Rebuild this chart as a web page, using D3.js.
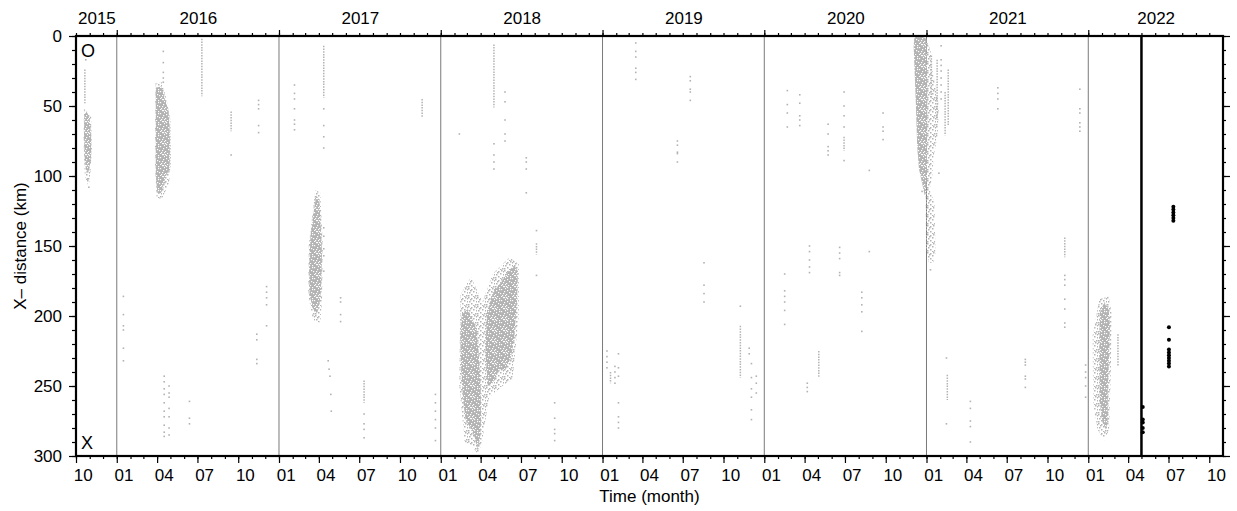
<!DOCTYPE html>
<html>
<head>
<meta charset="utf-8">
<script src="https://cdn.jsdelivr.net/npm/d3@7"></script>
<style>
body { margin: 0; background: #fff; }
svg text { font-family: "Liberation Sans", Arial, Helvetica, sans-serif; }
</style>
</head>
<body>
<svg id="chart" width="1237" height="511"></svg>
<script>
// Time window and the cut-off date (thick black line)
const startDate = "2015-10-01"
const endDate = "2022-11-01"
const cutoffDate = "2022-05-01"

// Dense swarms, outlined as [date, km] polygons
const cloud2015 = [["2015-10-20",56],["2015-10-26",54],["2015-11-01",60],["2015-11-04",71],["2015-11-04",86],["2015-10-31",95],["2015-10-25",98],["2015-10-21",90],["2015-10-19",71]]
const cloud2016 = [["2016-03-29",37],["2016-04-10",36],["2016-04-17",43],["2016-04-27",54],["2016-04-30",71],["2016-04-29",95],["2016-04-21",100],["2016-04-10",112],["2016-04-02",113],["2016-03-29",100]]
const cloud2017 = [["2017-03-26",114],["2017-04-02",117],["2017-04-05",133],["2017-04-08",155],["2017-04-06",181],["2017-04-03",190],["2017-03-28",198],["2017-03-19",195],["2017-03-11",185],["2017-03-10",167],["2017-03-13",143],["2017-03-21",124]]
const cloud2018a = [["2018-02-18",198],["2018-03-03",195],["2018-03-13",202],["2018-03-23",210],["2018-03-28",229],["2018-04-01",250],["2018-04-02",274],["2018-03-31",286],["2018-03-26",295],["2018-03-18",286],["2018-03-07",279],["2018-02-26",274],["2018-02-21",262],["2018-02-16",238],["2018-02-14",214]]
const cloud2018b = [["2018-04-15",198],["2018-04-28",183],["2018-05-17",176],["2018-06-05",167],["2018-06-16",164],["2018-06-24",168],["2018-06-22",190],["2018-06-16",214],["2018-06-09",229],["2018-05-28",238],["2018-05-13",238],["2018-04-28",248],["2018-04-17",250],["2018-04-12",226]]
const cloud2020 = [["2020-12-05",0],["2020-12-18",0],["2021-01-01",2],["2021-01-03",40],["2021-01-02",100],["2020-12-31",112],["2020-12-28",114],["2020-12-22",105],["2020-12-15",95],["2020-12-11",79],["2020-12-08",48],["2020-12-05",24],["2020-12-03",7]]
const cloud2022 = [["2022-01-27",198],["2022-02-06",190],["2022-02-16",195],["2022-02-19",207],["2022-02-17",226],["2022-02-14",250],["2022-02-14",274],["2022-02-10",281],["2022-02-02",276],["2022-01-27",262],["2022-01-26",226]]

// Thinner fringes round the swarms
const halo2015 = [["2015-10-19",52],["2015-11-04",58],["2015-11-06",80],["2015-11-02",100],["2015-10-29",108],["2015-10-21",100],["2015-10-18",75]]
const halo2016 = [["2016-03-28",34],["2016-04-12",33],["2016-04-22",45],["2016-05-01",60],["2016-05-02",90],["2016-04-28",105],["2016-04-12",116],["2016-03-31",116],["2016-03-27",90]]
const halo2017 = [["2017-03-24",110],["2017-04-04",112],["2017-04-10",150],["2017-04-08",190],["2017-04-04",205],["2017-03-19",203],["2017-03-08",185],["2017-03-09",150]]
const halo2018 = [["2018-02-14",185],["2018-03-10",172],["2018-04-05",190],["2018-04-28",170],["2018-06-05",158],["2018-06-26",163],["2018-06-26",200],["2018-06-12",245],["2018-05-20",250],["2018-04-20",258],["2018-04-04",290],["2018-03-26",299],["2018-03-10",292],["2018-02-24",290],["2018-02-12",250]]
const halo2021 = [["2020-12-30",2],["2021-01-10",10],["2021-01-14",24],["2021-01-21",36],["2021-01-29",50],["2021-01-26",71],["2021-01-17",86],["2021-01-14",100],["2021-01-08",110],["2021-01-19",119],["2021-01-20",133],["2021-01-21",155],["2021-01-16",162],["2021-01-06",162],["2020-12-31",152],["2020-12-30",114]]
const halo2022 = [["2022-01-11",214],["2022-01-26",188],["2022-02-16",186],["2022-02-23",198],["2022-02-21",238],["2022-02-17",281],["2022-02-06",289],["2022-01-22",281],["2022-01-12",262]]

const coreClouds = [cloud2015, cloud2016, cloud2017, cloud2018a, cloud2018b, cloud2020, cloud2022]
const haloClouds = [halo2015, halo2016, halo2017, halo2018, halo2021, halo2022]

// Short runs of events: [date, km from, km to]
const streaks = [
    ["2015-10-21",24,48], ["2016-07-11",2,43], ["2016-09-15",54,68], ["2017-04-12",7,44],
    ["2017-07-12",246,262], ["2017-11-20",45,58], ["2018-05-01",6,51], ["2018-08-05",148,156],
    ["2019-11-08",207,244], ["2019-01-19",240,248], ["2020-05-03",225,244], ["2020-06-29",72,82],
    ["2021-01-12",14,45], ["2021-01-25",17,60], ["2021-02-19",24,64], ["2021-02-12",40,71],
    ["2021-11-09",144,158], ["2021-02-17",242,260], ["2022-03-09",213,236]
]

// Isolated events: [date, [km, ...]]
const scattered = [
    ["2015-10-23",[17]], ["2015-10-27",[102]], ["2015-10-30",[108]],
    ["2016-01-16",[186,199,207,210,223,232]], ["2016-04-15",[11,19,26,30,33]],
    ["2016-04-17",[243,247,252,256,262,268,272,278,283,286]], ["2016-04-28",[250,255,258,266,272,280,285]],
    ["2016-06-13",[261,273,277]], ["2016-09-15",[85]], ["2016-11-16",[46,49,52,64,69]],
    ["2016-12-04",[179,183,187,192,207]], ["2016-11-12",[213,217,231,234]],
    ["2017-02-05",[35,41,45,52,60,63,67]], ["2017-04-12",[52,64,72,80,137,143,152,157,168]],
    ["2017-05-20",[187,190,199,204]], ["2017-04-22",[232]], ["2017-04-24",[238]], ["2017-04-26",[243]],
    ["2017-04-28",[256]], ["2017-04-29",[268]], ["2017-07-12",[270,277,281,287]],
    ["2017-12-20",[256,262,268,274,280,289]],
    ["2018-05-01",[77,85,90,95]], ["2018-05-26",[40,47,60,70,75]], ["2018-02-12",[70]],
    ["2018-07-13",[87,90,95,112]], ["2018-08-05",[139,171]], ["2018-09-15",[262,273,281,284,289]],
    ["2019-03-17",[0,5,11,15,23,26,31]], ["2019-07-18",[29,32,38,40,46]], ["2019-06-19",[75,78,83,84,90]],
    ["2019-08-18",[162,178,184,190]], ["2019-11-08",[193]], ["2019-11-28",[223,227]],
    ["2019-12-03",[234,244,252,258,267,274]], ["2019-12-14",[243,248,255]],
    ["2019-01-11",[225,229,233,237]], ["2019-01-29",[236,240,244,248]], ["2019-02-06",[227,237,243,262,272,276,280]],
    ["2020-02-22",[39,49,55,65]], ["2020-03-21",[42,48,57,60,64]], ["2020-05-24",[63,70,79,82,85]],
    ["2020-06-29",[40,50,57,65,89]], ["2020-09-25",[55,65,68,74]], ["2020-08-25",[96,154]],
    ["2020-02-16",[170,182,186,190,196,206]], ["2020-04-12",[150,154,160,165,169]],
    ["2020-06-19",[151,155,159,169,171]], ["2020-08-08",[183,187,192,197,211]], ["2020-04-07",[248,251,254]],
    ["2021-02-03",[7,17,21,25,30,35,40,45]], ["2020-12-22",[111]], ["2021-01-10",[167]], ["2021-01-29",[98]],
    ["2021-06-11",[37,41,45,52]], ["2021-12-13",[38,52,55,62,65,68]], ["2021-11-09",[171,174,178,188,195,205,208]],
    ["2021-08-12",[231,233,235,243,245,251]], ["2021-02-15",[230,277]], ["2021-04-10",[261,266,275,279,290]],
    ["2021-12-26",[235,240,244,250,258]]
]

// Events after the cut-off (black)
const recent = [
    ["2022-05-04",[265,274,276,280,283]],
    ["2022-07-12",[122,124,126,128,130,132]],
    ["2022-07-02",[208,217,224,226,228,230,232,234,236]]
]

const kmTicks = d3.range(0, 301, 50)

// Begin drawing

const parse = d3.utcParse("%Y-%m-%d")
const svg = d3.select('#chart')
const grey = '#b3b3b3'

const x = d3.scaleUtc().domain([parse(startDate), parse(endDate)]).range([76, 1223])
const y = d3.scaleLinear().domain([0, 300]).range([36, 456])

const defs = svg.append('defs')
defs.append('clipPath').attr('id', 'plot')
    .append('rect').attr('x', 76).attr('y', 36).attr('width', 1147).attr('height', 420)

// grainy textures for the swarms
var dense = defs.append('pattern').attr('id', 'dense').attr('patternUnits', 'userSpaceOnUse')
    .attr('width', 11).attr('height', 11)
dense.append('rect').attr('width', 11).attr('height', 11).attr('fill', grey)
;[[0,0],[4,1],[8,0],[6,3],[10,2],[1,4],[3,6],[9,5],[5,7],[7,9],[0,8],[10,9],[2,10],[4,3],[8,7],[1,1],[6,10],[9,0]].forEach(p => {
    dense.append('rect').attr('x', p[0]).attr('y', p[1]).attr('width', 1.2).attr('height', 1.2).attr('fill', '#fff')
})
var sparse = defs.append('pattern').attr('id', 'sparse').attr('patternUnits', 'userSpaceOnUse')
    .attr('width', 9).attr('height', 9)
;[[0,0],[3,1],[6,0],[5,3],[8,4],[1,4],[3,6],[7,7],[0,7],[5,8],[2,2],[8,1]].forEach(p => {
    sparse.append('rect').attr('x', p[0]).attr('y', p[1]).attr('width', 1.5).attr('height', 1.5).attr('fill', grey)
})

// year grid lines
svg.append('g').selectAll('line')
    .data(d3.utcYear.range(x.domain()[0], x.domain()[1]))
    .enter().append('line')
    .attr('x1', d => x(d)).attr('x2', d => x(d))
    .attr('y1', 36).attr('y2', 456)
    .attr('stroke', '#7a7a7a').attr('stroke-width', 1)

var plot = svg.append('g').attr('clip-path', 'url(#plot)')
var line = d3.line().x(d => x(parse(d[0]))).y(d => y(d[1]))

plot.selectAll('path.halo').data(haloClouds).enter().append('path')
    .attr('class', 'halo').attr('d', d => line(d) + 'Z').attr('fill', 'url(#sparse)')
plot.selectAll('path.core').data(coreClouds).enter().append('path')
    .attr('class', 'core').attr('d', d => line(d) + 'Z').attr('fill', 'url(#dense)')

plot.selectAll('line.streak').data(streaks).enter().append('line')
    .attr('class', 'streak')
    .attr('x1', d => x(parse(d[0]))).attr('x2', d => x(parse(d[0])))
    .attr('y1', d => y(d[1])).attr('y2', d => y(d[2]))
    .attr('stroke', grey).attr('stroke-width', 1.5).attr('stroke-dasharray', '1.5 1.2')

var flat = scattered.flatMap(d => d[1].map(km => [d[0], km]))
plot.selectAll('rect.dot').data(flat).enter().append('rect')
    .attr('class', 'dot')
    .attr('x', d => x(parse(d[0])) - 0.8).attr('y', d => y(d[1]) - 0.8)
    .attr('width', 1.6).attr('height', 1.6).attr('fill', grey)

// cut-off line and later events
svg.append('line')
    .attr('x1', x(parse(cutoffDate))).attr('x2', x(parse(cutoffDate)))
    .attr('y1', 36).attr('y2', 456)
    .attr('stroke', '#000').attr('stroke-width', 2.5)

var flatRecent = recent.flatMap(d => d[1].map(km => [d[0], km]))
plot.selectAll('circle').data(flatRecent).enter().append('circle')
    .attr('cx', d => x(parse(d[0]))).attr('cy', d => y(d[1]))
    .attr('r', 2).attr('fill', '#000')

// Axes
function clean(g) {
    g.select('.domain').remove()
    g.selectAll('line').attr('stroke-width', 1.2)
    g.selectAll('text').attr('font-size', 17).attr('fill', '#000')
        .attr('font-family', '"Liberation Sans", Arial, Helvetica, sans-serif')
}

var months = d3.utcMonth.range(x.domain()[0], x.domain()[1])
var quarters = months.filter(d => d.getUTCMonth() % 3 == 0)
var midMonths = quarters.map(d => d3.utcDay.offset(d, 15))

svg.append('g').attr('transform', 'translate(0,456)')
    .call(d3.axisBottom(x).tickValues(months).tickSize(3).tickFormat('')).call(clean)
svg.append('g').attr('transform', 'translate(0,456)')
    .call(d3.axisBottom(x).tickValues(quarters).tickSize(7).tickFormat('')).call(clean)
svg.append('g').attr('transform', 'translate(0,456)')
    .call(d3.axisBottom(x).tickValues(midMonths).tickSize(0).tickPadding(13).tickFormat(d3.utcFormat('%m'))).call(clean)

var years = d3.utcYear.range(d3.utcYear.floor(x.domain()[0]), x.domain()[1])
var yearMids = years.map(d => {
    var a = Math.max(+d, +x.domain()[0])
    var b = Math.min(+d3.utcYear.offset(d, 1), +x.domain()[1])
    return new Date((a + b) / 2)
})
svg.append('g').attr('transform', 'translate(0,36)')
    .call(d3.axisTop(x).tickValues(months).tickSize(3).tickFormat('')).call(clean)
svg.append('g').attr('transform', 'translate(0,36)')
    .call(d3.axisTop(x).tickValues(d3.utcYear.range(x.domain()[0], x.domain()[1])).tickSize(6).tickFormat('')).call(clean)
svg.append('g').attr('transform', 'translate(0,36)')
    .call(d3.axisTop(x).tickValues(yearMids).tickSize(0).tickPadding(12).tickFormat(d3.utcFormat('%Y'))).call(clean)

svg.append('g').attr('transform', 'translate(76,0)')
    .call(d3.axisLeft(y).tickValues(d3.range(0, 301, 10)).tickSize(4).tickFormat('')).call(clean)
svg.append('g').attr('transform', 'translate(76,0)')
    .call(d3.axisLeft(y).tickValues(kmTicks).tickSize(7).tickPadding(7)).call(clean)
svg.append('g').attr('transform', 'translate(1223,0)')
    .call(d3.axisRight(y).tickValues(d3.range(0, 301, 10)).tickSize(3).tickFormat('')).call(clean)
svg.append('g').attr('transform', 'translate(1223,0)')
    .call(d3.axisRight(y).tickValues(kmTicks).tickSize(7).tickFormat('')).call(clean)

svg.append('rect').attr('x', 76).attr('y', 36).attr('width', 1147).attr('height', 420)
    .attr('fill', 'none').attr('stroke', '#000').attr('stroke-width', 2.2)

// Labels
svg.append('text').attr('x', 649.5).attr('y', 502).attr('text-anchor', 'middle')
    .attr('font-size', 17).text('Time (month)')
svg.append('text').attr('transform', 'translate(26,246) rotate(-90)').attr('text-anchor', 'middle')
    .attr('font-size', 17).text('X– distance (km)')
svg.append('text').attr('x', 81).attr('y', 57).attr('font-size', 18).text('O')
svg.append('text').attr('x', 81).attr('y', 449).attr('font-size', 18).text('X')
</script>
</body>
</html>
